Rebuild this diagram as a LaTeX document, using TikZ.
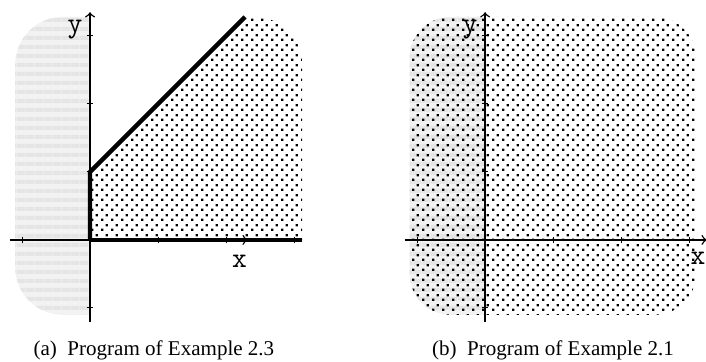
\documentclass[tikz,border=0pt]{standalone}
\usepackage{fontspec}
\setmainfont{Liberation Serif}
\usetikzlibrary{patterns}

% staggered dot fill
\pgfdeclarepatternformonly{sparsedots}{\pgfpointorigin}{\pgfpoint{4.2pt}{4.2pt}}{\pgfpoint{4.2pt}{4.2pt}}{
  \pgfpathrectangle{\pgfpoint{0.5pt}{0.5pt}}{\pgfpoint{1.05pt}{1.05pt}}
  \pgfpathrectangle{\pgfpoint{2.6pt}{2.6pt}}{\pgfpoint{1.05pt}{1.05pt}}
  \pgfusepath{fill}
}
% horizontal bands
\pgfdeclarepatternformonly{hbands}{\pgfpointorigin}{\pgfpoint{3.6pt}{3.6pt}}{\pgfpoint{3.6pt}{3.6pt}}{
  \pgfpathrectangle{\pgfpointorigin}{\pgfpoint{3.6pt}{1.8pt}}
  \pgfusepath{fill}
}

\tikzset{
  axis/.style={line width=0.6pt, ->, >=to},
  bound/.style={line width=1.8pt},
  tick/.style={line width=0.4pt},
  axlabel/.style={font=\ttfamily\large, inner sep=0pt},
  caption/.style={font=\fontsize{8.8}{10}\selectfont, inner sep=0pt}
}

\begin{document}
\begin{tikzpicture}
  \useasboundingbox (-1.324,-1.794) rectangle (9.059,3.529);

  % ---- (a) left panel ----
  \begin{scope}
    \clip[rounded corners=0.7cm] (-1.1,-1.1) rectangle (3.12,3.28);
    \fill[gray!10] (-1.2,-1.2) rectangle (0,3.4);
    \fill[pattern=hbands, pattern color=gray!20] (-1.2,-1.2) rectangle (0,3.4);
    \fill[pattern=sparsedots] (0,0) -- (0,1) -- (2.28,3.28) -- (3.3,3.4) -- (3.3,0) -- cycle;
  \end{scope}

  % axes
  \draw[axis] (-1.18,0) -- (2.32,0);
  \draw[axis] (0,-1.2) -- (0,3.35);
  \foreach \t in {-1,1,2,3} {
    \draw[tick] (\t,-0.05) -- (\t,0.05);
    \draw[tick] (-0.05,\t) -- (0.05,\t);
  }

  % boundary of the region
  \draw[bound] (0,0) -- (0,1) -- (2.28,3.28);
  \draw[bound] (0,0) -- (3.12,0);

  \node[axlabel] (ya) at (-0.22,3.1) {y};
  \node[axlabel] (xa) at (2.2,-0.32) {x};

  \node[caption] (capa) at (0.94,-1.63) {(a)\enspace Program of Example 2.3};

  % ---- (b) right panel ----
  \begin{scope}[xshift=5.81cm]
    \begin{scope}
      \clip[rounded corners=0.6cm] (-1.11,-1.1) rectangle (3.1,3.28);
      \fill[gray!10] (-1.2,-1.2) rectangle (0,3.4);
      \fill[pattern=hbands, pattern color=gray!20] (-1.2,-1.2) rectangle (0,3.4);
      \fill[pattern=sparsedots] (-1.2,-1.2) rectangle (3.2,3.4);
    \end{scope}

    \draw[axis] (-1.18,0) -- (3.26,0);
    \draw[axis] (0,-1.2) -- (0,3.35);
    \foreach \t in {-1,1,2,3} {
      \draw[tick] (\t,-0.05) -- (\t,0.05);
      \draw[tick] (-0.05,\t) -- (0.05,\t);
    }

    \node[axlabel] (yb) at (-0.22,3.1) {y};
    \node[axlabel] (xb) at (3.13,-0.27) {x};

    \node[caption] (capb) at (1.0,-1.63) {(b)\enspace Program of Example 2.1};
  \end{scope}
\end{tikzpicture}
\end{document}
